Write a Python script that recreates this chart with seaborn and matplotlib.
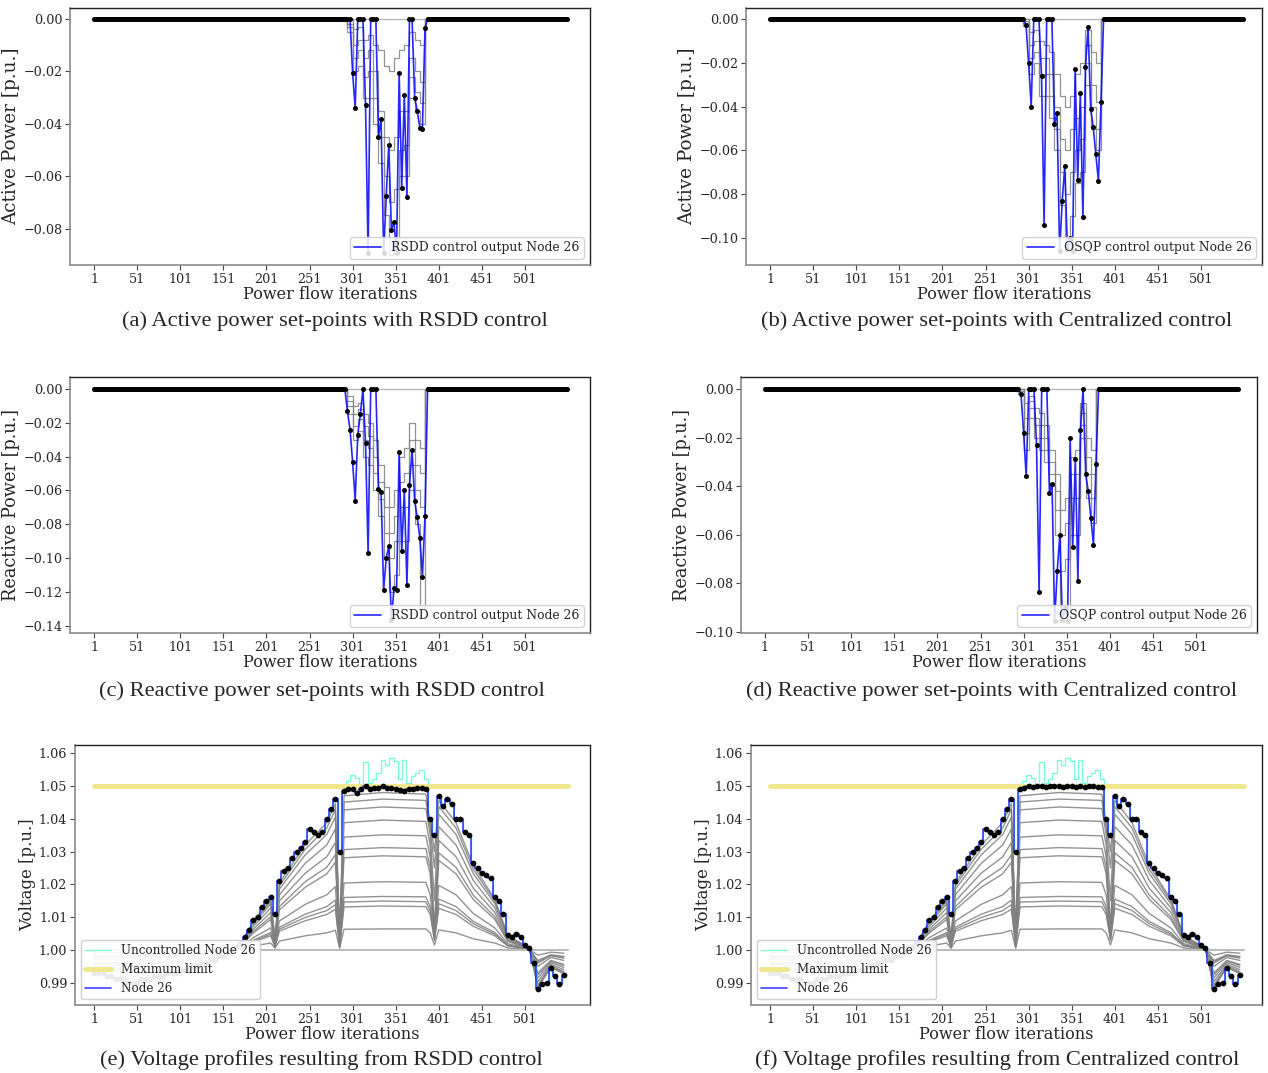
import numpy as np
import pandas as pd
import matplotlib
matplotlib.use("Agg")
import matplotlib.pyplot as plt
import seaborn as sns

# ---------------- DATA ----------------
# Power set-points (node 26): every iteration outside the dip window, every 3 inside
DIP_X = np.arange(292, 389, 3)   # 292 ... 388
X_P = np.concatenate([np.arange(1, 292), DIP_X, np.arange(389, 551)])

P_RSDD_ACT = [0, 0, 0, -0.0205, -0.034, 0, 0, 0, -0.033, -0.0895, 0, 0, 0,
              -0.045, -0.038, -0.0895, -0.0676, -0.048, -0.0805, -0.0774, -0.0895,
              -0.0205, -0.0644, -0.029, -0.068, 0, 0, -0.030, -0.035, -0.0415,
              -0.042, -0.0036, 0]
P_OSQP_ACT = [0, 0, -0.0027, -0.020, -0.040, 0, 0, 0, -0.026, -0.094, 0, 0, 0,
              -0.048, -0.043, -0.106, -0.083, -0.067, -0.105, -0.100, -0.106,
              -0.023, -0.0735, -0.034, -0.0905, -0.022, -0.0035, -0.041, -0.0495,
              -0.0616, -0.074, -0.038, 0]
Q_RSDD = [0, -0.013, -0.024, -0.043, -0.066, -0.027, -0.015, 0, -0.032, -0.097,
          0, 0, 0, -0.059, -0.061, -0.119, -0.100, -0.093, -0.137, -0.118, -0.119,
          -0.0375, -0.096, -0.060, -0.116, -0.057, -0.036, -0.066, -0.076, -0.088,
          -0.111, -0.075, 0]
Q_OSQP = [0, 0, -0.0022, -0.018, -0.036, 0, 0, 0, -0.023, -0.0835, 0, 0, 0,
          -0.043, -0.039, -0.0955, -0.075, -0.060, -0.095, -0.090, -0.0955,
          -0.020, -0.065, -0.029, -0.079, -0.017, 0, -0.035, -0.042, -0.053,
          -0.064, -0.031, 0]

# Other nodes' set-points (grey), grid every 6 iterations
GREY_X = [292, 298, 304, 310, 316, 322, 328, 334, 340, 346, 352, 358, 364, 370, 376, 382, 388]
GREY_RSDD_ACT = [
    [0, -0.005, -0.020, -0.018, -0.030, -0.030, -0.040, -0.055, -0.075, -0.090, -0.085, -0.060, -0.060, -0.030, -0.035, -0.040, 0],
    [0, -0.003, -0.015, -0.012, -0.022, -0.020, -0.030, -0.045, -0.060, -0.070, -0.065, -0.050, -0.048, -0.022, -0.028, -0.032, 0],
    [0, -0.002, -0.010, -0.008, -0.015, -0.012, -0.020, -0.035, -0.045, -0.050, -0.045, -0.035, -0.035, -0.015, -0.020, -0.024, 0],
    [0, 0, -0.004, -0.003, -0.008, -0.006, -0.010, -0.012, -0.018, -0.020, -0.015, -0.012, -0.010, -0.005, -0.008, -0.010, 0],
]
GREY_OSQP_ACT = [
    [0, -0.003, -0.025, -0.020, -0.035, -0.035, -0.045, -0.060, -0.085, -0.100, -0.090, -0.075, -0.070, -0.030, -0.050, -0.060, 0],
    [0, -0.002, -0.018, -0.015, -0.025, -0.025, -0.035, -0.050, -0.070, -0.080, -0.070, -0.060, -0.055, -0.020, -0.040, -0.050, 0],
    [0, -0.001, -0.012, -0.010, -0.018, -0.018, -0.025, -0.040, -0.055, -0.060, -0.050, -0.045, -0.040, -0.012, -0.030, -0.038, 0],
    [0, 0, -0.006, -0.005, -0.010, -0.012, -0.015, -0.025, -0.035, -0.040, -0.035, -0.025, -0.020, -0.005, -0.015, -0.020, 0],
]
GREY_RSDD_REACT = [
    [0, -0.015, -0.030, -0.025, -0.040, -0.045, -0.060, -0.075, -0.100, -0.120, -0.110, -0.090, -0.090, -0.060, -0.080, -0.130, 0],
    [0, -0.010, -0.022, -0.018, -0.030, -0.035, -0.050, -0.065, -0.085, -0.100, -0.090, -0.070, -0.070, -0.045, -0.060, -0.070, 0],
    [0, -0.007, -0.015, -0.012, -0.022, -0.028, -0.040, -0.055, -0.070, -0.085, -0.075, -0.055, -0.050, -0.030, -0.045, -0.050, 0],
    [0, -0.004, -0.010, -0.008, -0.015, -0.020, -0.030, -0.045, -0.058, -0.070, -0.060, -0.040, -0.035, -0.020, -0.030, -0.035, 0],
]
GREY_OSQP_REACT = [
    [0, -0.002, -0.025, -0.012, -0.020, -0.025, -0.030, -0.040, -0.060, -0.095, -0.090, -0.060, -0.060, -0.020, -0.045, -0.055, 0],
    [0, -0.001, -0.018, -0.008, -0.015, -0.020, -0.025, -0.035, -0.050, -0.075, -0.070, -0.045, -0.045, -0.015, -0.035, -0.045, 0],
    [0, 0, -0.012, -0.005, -0.012, -0.015, -0.020, -0.030, -0.042, -0.060, -0.055, -0.035, -0.035, -0.010, -0.028, -0.035, 0],
    [0, 0, -0.006, -0.003, -0.008, -0.010, -0.015, -0.025, -0.035, -0.050, -0.045, -0.028, -0.025, -0.006, -0.020, -0.025, 0],
]

# Voltage of node 26, grid of iterations every 5 (1 ... 546)
X_V = np.arange(1, 551, 5)
V26_PRE = [0.993, 0.993, 0.993, 0.992, 0.992, 0.991, 0.991, 0.991, 0.990, 0.990,
           0.990, 0.991, 0.991, 0.991, 0.992, 0.992, 0.992, 0.993, 0.993, 0.993,
           0.994, 0.994, 0.994, 0.995, 0.995, 0.996, 0.996, 0.997, 0.997, 0.998,
           0.998, 0.999, 1.000, 1.001, 1.002,
           1.004, 1.006, 1.009, 1.010, 1.013, 1.015, 1.016, 1.011, 1.021, 1.024,
           1.025, 1.028, 1.030, 1.031, 1.033, 1.037, 1.036, 1.035, 1.036, 1.040,
           1.043, 1.046, 1.030]
V26_RSDD_PLATEAU = [1.0485, 1.0490, 1.0490, 1.0480, 1.0490, 1.0500, 1.0490, 1.0495,
                    1.0495, 1.0500, 1.0495, 1.0495, 1.0490, 1.0488, 1.0485, 1.0490,
                    1.0490, 1.0495, 1.0495, 1.0490]
V26_OSQP_PLATEAU = [1.0490, 1.0495, 1.0500, 1.0497, 1.0500, 1.0500, 1.0498, 1.0500,
                    1.0500, 1.0500, 1.0497, 1.0500, 1.0500, 1.0498, 1.0500, 1.0497,
                    1.0500, 1.0500, 1.0498, 1.0497]
UNC_PLATEAU = [1.0490, 1.0515, 1.0534, 1.0525, 1.0500, 1.0574, 1.0510, 1.0520,
               1.0540, 1.0580, 1.0565, 1.0585, 1.0575, 1.0520, 1.0580, 1.0510,
               1.0530, 1.0540, 1.0550, 1.0520]
V26_POST = [1.040, 1.035, 1.047, 1.044, 1.046, 1.0445, 1.040, 1.040, 1.036, 1.035,
            1.0265, 1.025, 1.0235, 1.023, 1.022, 1.016, 1.015, 1.011, 1.0045, 1.004,
            1.005, 1.004, 1.0015, 1.0006, 0.996, 0.988, 0.9895, 0.990, 0.9945, 0.992,
            0.9895, 0.9925]

# Voltages of the other nodes (grey)
VG_X = [1, 120, 171, 186, 206, 211, 216, 246, 271, 281, 286, 291, 336, 386, 391,
        396, 401, 421, 441, 466, 481, 506, 516, 531, 546]
GREY_V = [
    [0.9932, 0.9952, 1.0019, 1.0087, 1.0155, 1.0030, 1.0204, 1.0320, 1.0388, 1.0446, 1.0040, 1.0470, 1.0480, 1.0475, 1.0388, 1.0300, 1.0456, 1.0388, 1.0257, 1.0155, 1.0044, 1.0006, 0.9884, 0.9947, 0.9927],
    [0.9935, 0.9953, 1.0019, 1.0084, 1.0149, 1.0030, 1.0195, 1.0307, 1.0372, 1.0428, 1.0040, 1.0451, 1.0460, 1.0456, 1.0372, 1.0250, 1.0437, 1.0372, 1.0246, 1.0149, 1.0042, 1.0006, 0.9888, 0.9949, 0.9930],
    [0.9938, 0.9956, 1.0018, 1.0079, 1.0141, 1.0025, 1.0185, 1.0290, 1.0352, 1.0405, 1.0035, 1.0427, 1.0436, 1.0431, 1.0352, 1.0150, 1.0414, 1.0352, 1.0233, 1.0141, 1.0040, 1.0005, 0.9894, 0.9952, 0.9934],
    [0.9944, 0.9960, 1.0016, 1.0072, 1.0128, 1.0025, 1.0168, 1.0264, 1.0320, 1.0368, 1.0030, 1.0388, 1.0396, 1.0392, 1.0320, 1.0060, 1.0376, 1.0320, 1.0212, 1.0128, 1.0036, 1.0005, 0.9904, 0.9956, 0.9940],
    [0.9950, 0.9964, 1.0014, 1.0064, 1.0114, 1.0020, 1.0149, 1.0234, 1.0284, 1.0327, 1.0025, 1.0344, 1.0351, 1.0348, 1.0284, 1.0050, 1.0334, 1.0284, 1.0188, 1.0114, 1.0032, 1.0004, 0.9915, 0.9961, 0.9947],
    [0.9956, 0.9968, 1.0013, 1.0057, 1.0101, 1.0020, 1.0132, 1.0208, 1.0252, 1.0290, 1.0025, 1.0306, 1.0312, 1.0309, 1.0252, 1.0050, 1.0296, 1.0252, 1.0167, 1.0101, 1.0028, 1.0004, 0.9924, 0.9965, 0.9953],
    [0.9959, 0.9971, 1.0012, 1.0052, 1.0093, 1.0015, 1.0122, 1.0191, 1.0232, 1.0267, 1.0020, 1.0281, 1.0287, 1.0284, 1.0232, 1.0045, 1.0273, 1.0232, 1.0154, 1.0093, 1.0026, 1.0003, 0.9930, 0.9968, 0.9956],
    [0.9971, 0.9979, 1.0008, 1.0038, 1.0067, 1.0015, 1.0088, 1.0139, 1.0168, 1.0193, 1.0015, 1.0204, 1.0208, 1.0206, 1.0168, 1.0040, 1.0197, 1.0168, 1.0111, 1.0067, 1.0019, 1.0003, 0.9950, 0.9977, 0.9968],
    [0.9977, 0.9983, 1.0007, 1.0030, 1.0053, 1.0010, 1.0069, 1.0109, 1.0132, 1.0152, 1.0010, 1.0160, 1.0163, 1.0162, 1.0132, 1.0035, 1.0155, 1.0132, 1.0087, 1.0053, 1.0015, 1.0002, 0.9960, 0.9982, 0.9975],
    [0.9979, 0.9985, 1.0006, 1.0027, 1.0048, 1.0010, 1.0063, 1.0099, 1.0120, 1.0138, 1.0010, 1.0146, 1.0149, 1.0147, 1.0120, 1.0030, 1.0141, 1.0120, 1.0080, 1.0048, 1.0014, 1.0002, 0.9964, 0.9984, 0.9978],
    [0.9981, 0.9987, 1.0005, 1.0024, 1.0043, 1.0010, 1.0057, 1.0089, 1.0108, 1.0124, 1.0010, 1.0131, 1.0134, 1.0132, 1.0108, 1.0030, 1.0127, 1.0108, 1.0072, 1.0043, 1.0012, 1.0002, 0.9968, 0.9985, 0.9980],
    [0.9991, 0.9994, 1.0003, 1.0012, 1.0021, 1.0005, 1.0027, 1.0043, 1.0052, 1.0060, 1.0005, 1.0063, 1.0064, 1.0064, 1.0052, 1.0015, 1.0061, 1.0052, 1.0034, 1.0021, 1.0006, 1.0001, 0.9984, 0.9993, 0.9990],
]
LIMIT_X = [1, 551]
V_MAX = 1.05
V_SLACK = 1.0

XTICKS = [1, 51, 101, 151, 201, 251, 301, 351, 401, 451, 501]

CAPTIONS = ["(a) Active power set-points with RSDD control",
            "(b) Active power set-points with Centralized control",
            "(c) Reactive power set-points with RSDD control",
            "(d) Reactive power set-points with Centralized control",
            "(e) Voltage profiles resulting from RSDD control",
            "(f) Voltage profiles resulting from Centralized control"]

# ---------------- STYLE ----------------
sns.set_style("white")
plt.rcParams["font.family"] = ["DejaVu Serif"]
plt.rcParams["axes.unicode_minus"] = True

W, H = 1268, 1073
fig = plt.figure(figsize=(W / 100, H / 100), dpi=100)
PX = 0.862  # pixels per iteration


def add_ax(l, r, t, b, x1):
    ax = fig.add_axes([l / W, 1 - b / H, (r - l) / W, (b - t) / H])
    ax.set_xlim(1 + (l - x1) / PX, 1 + (r - x1) / PX)
    return ax


def style(ax, ylabel, ysize):
    ax.set_xticks(XTICKS)
    ax.tick_params(axis="both", labelsize=9.2, length=3.5, width=0.8,
                   bottom=True, left=True, color="#444444", pad=2)
    for s in ["left", "bottom"]:
        ax.spines[s].set_color("#8a8a8a")
        ax.spines[s].set_linewidth(1.2)
    for s in ["top", "right"]:
        ax.spines[s].set_color("#222222")
        ax.spines[s].set_linewidth(1.0)
    ax.set_xlabel("Power flow iterations", fontsize=11.6, labelpad=0)
    ax.set_ylabel(ylabel, fontsize=ysize, labelpad=2)


def power_panel(ax, dip_vals, grey_rows, label, ylim, ylabel, ysize):
    p = pd.Series(0.0, index=X_P)
    p.loc[DIP_X] = dip_vals
    sns.lineplot(x=X_P, y=np.zeros(len(X_P)), color="#b8b8b8", lw=1.0, ax=ax)
    for row in grey_rows:
        sns.lineplot(x=GREY_X, y=row, color="#808080", lw=0.9, alpha=0.85,
                     drawstyle="steps-mid", ax=ax)
    sns.lineplot(x=X_P, y=p.values, color="blue", lw=1.2, alpha=0.85,
                 label=label, ax=ax)
    sns.scatterplot(x=X_P, y=p.values, color="black", s=13, linewidth=0,
                    ax=ax, zorder=5)
    ax.set_ylim(*ylim)
    ax.legend(loc="lower right", fontsize=8.9, handlelength=2.2,
              borderpad=0.35, framealpha=0.85)
    style(ax, ylabel, ysize)


def voltage_panel(ax, plateau):
    v26 = np.array(V26_PRE + plateau + V26_POST)
    unc = np.array(V26_PRE + UNC_PLATEAU + V26_POST)
    for row in GREY_V:
        sns.lineplot(x=VG_X, y=row, color="#808080", lw=1.0, alpha=0.85, ax=ax)
    sns.lineplot(x=LIMIT_X, y=[V_SLACK, V_SLACK], color="#bbbbbb", lw=1.5, ax=ax)
    sns.lineplot(x=X_V, y=unc, color="aquamarine", lw=1.0, drawstyle="steps-mid",
                 label="Uncontrolled Node 26", ax=ax)
    sns.lineplot(x=LIMIT_X, y=[V_MAX, V_MAX], color="khaki", lw=3.5,
                 label="Maximum limit", ax=ax)
    sns.lineplot(x=X_V, y=v26, color="blue", lw=1.2, alpha=0.75,
                 drawstyle="steps-mid", label="Node 26", ax=ax)
    sns.scatterplot(x=X_V, y=v26, color="black", s=17, linewidth=0, ax=ax, zorder=5)
    ax.set_ylim(0.9832, 1.0625)
    ax.legend(loc="lower left", fontsize=8.6, handlelength=2.2,
              borderpad=0.35, framealpha=0.92)
    style(ax, "Voltage [p.u.]", 12.0)


ax_a = add_ax(70, 590, 8, 265, 94)
power_panel(ax_a, P_RSDD_ACT, GREY_RSDD_ACT, "RSDD control output Node 26",
            (-0.0939, 0.0042), "Active Power [p.u.]", 13.2)
ax_b = add_ax(746, 1262, 8, 265, 770)
power_panel(ax_b, P_OSQP_ACT, GREY_OSQP_ACT, "OSQP control output Node 26",
            (-0.1123, 0.0050), "Active Power [p.u.]", 13.2)
ax_c = add_ax(70, 590, 377, 633, 94)
power_panel(ax_c, Q_RSDD, GREY_RSDD_REACT, "RSDD control output Node 26",
            (-0.1444, 0.0071), "Reactive Power [p.u.]", 12.8)
ax_d = add_ax(741, 1257, 377, 633, 765)
power_panel(ax_d, Q_OSQP, GREY_OSQP_REACT, "OSQP control output Node 26",
            (-0.1004, 0.0049), "Reactive Power [p.u.]", 12.8)
ax_e = add_ax(75, 590, 745, 1005, 94)
voltage_panel(ax_e, V26_RSDD_PLATEAU)
ax_f = add_ax(751, 1262, 745, 1005, 770)
voltage_panel(ax_f, V26_OSQP_PLATEAU)

cap_pos = [(335, 321), (997, 321), (322, 691), (992, 691), (321, 1060), (997, 1060)]
for (cx, cy), txt in zip(cap_pos, CAPTIONS):
    fig.text(cx / W, 1 - cy / H, txt, ha="center", va="center",
             fontsize=16.2, family=["Liberation Serif", "DejaVu Serif"])

fig.savefig("out.png", dpi=100)
